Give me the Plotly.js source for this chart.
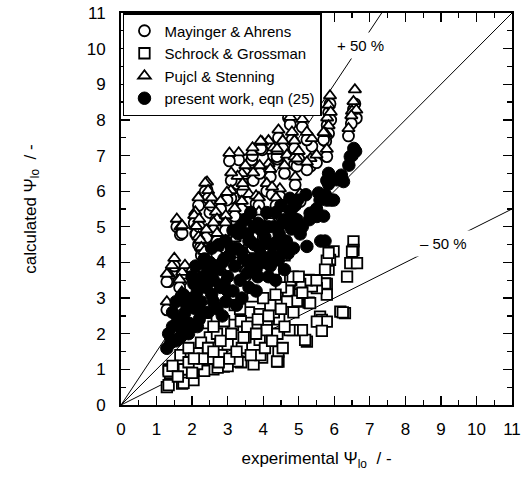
<!DOCTYPE html>
<html><head><meta charset="utf-8">
<script src="https://cdn.plot.ly/plotly-3.0.1.min.js"></script>
<style>html,body{margin:0;padding:0;background:#fff}#chart{width:522px;height:484px}</style>
</head><body><div id="chart"></div>
<script>
// Mayinger & Ahrens (open circles)
const mayX = [6.54,6.50,6.62,6.58,6.40,6.48,5.84,5.88,5.80,5.84,5.76,5.79,5.90,5.70,5.37,5.23,5.33,5.23,5.04,
  4.71,4.76,4.81,4.88,4.43,4.67,4.88,4.95,4.90,4.29,4.40,4.15,3.97,3.93,3.68,3.31,4.39,4.15,4.20,4.10,4.47,4.25,4.36,
  3.72,3.40,3.28,3.45,3.42,3.09,2.98,3.40,3.60,3.80,3.88,3.88,3.60,3.55,3.20,
  2.42,2.37,2.45,2.18,2.50,2.67,2.70,2.95,2.94,2.70,2.94,3.20,2.70,
  1.57,1.67,1.72,2.09,2.06,2.10,2.12,2.18,2.23,2.26,2.34,
  1.34,1.43,1.29,1.72,1.80,2.00,1.29,1.71,2.30,3.00,3.30,3.70,4.00,4.20,4.50,2.50,2.80,3.50,
  2.20,2.55,2.80,3.10,3.50,3.90,4.60,5.00,4.55,5.50,2.40,2.60,3.35,1.50,1.65,3.05,3.70,5.10];
const mayY = [8.30,8.05,8.05,8.45,7.55,7.90,8.20,8.45,7.85,7.62,7.40,6.97,8.00,7.44,7.26,7.44,6.70,6.60,5.71,
  8.06,7.87,7.44,7.20,7.50,6.80,6.75,6.70,6.18,7.00,6.90,7.20,7.16,7.20,6.88,6.88,6.97,6.55,6.40,6.00,5.85,5.90,5.60,
  6.30,6.28,6.20,5.90,6.00,5.80,5.75,5.50,5.70,5.65,5.60,5.20,5.15,4.80,5.30,
  6.04,5.99,5.80,5.60,5.40,5.20,5.00,5.10,4.90,4.60,4.40,4.45,4.20,
  5.00,4.78,4.82,5.20,5.10,4.80,4.80,4.50,4.41,4.20,4.10,
  3.46,3.70,3.46,3.51,3.70,3.60,2.67,2.95,3.80,3.90,4.00,4.40,4.70,5.10,5.30,3.30,3.60,3.60,
  5.00,5.60,5.50,6.30,6.50,6.50,6.50,6.90,7.20,6.80,4.70,4.90,4.60,3.90,3.30,6.85,7.00,7.80];
// Schrock & Grossman (open squares)
const schX = [6.54,6.54,6.50,6.45,6.64,6.36,5.98,5.88,5.84,5.79,5.74,5.79,5.79,5.74,5.51,5.37,5.28,5.23,5.04,
  4.79,4.76,4.74,4.70,5.28,4.97,4.95,5.32,5.60,5.65,5.79,5.51,5.65,6.17,6.30,6.24,5.23,5.18,5.09,4.83,4.74,
  4.43,4.43,4.39,4.10,3.97,3.73,3.92,3.38,3.28,2.89,3.00,2.60,2.72,2.19,2.34,2.04,1.72,1.76,1.29,1.34,
  1.34,1.38,1.34,1.67,1.71,1.77,2.14,2.50,2.83,3.00,3.40,3.50,3.90,4.10,4.40,4.45,4.30,4.67,4.20,3.70,
  3.60,3.15,2.90,2.50,2.25,2.15,3.37,3.90,5.10,4.50,4.00,2.70,2.40,1.90,3.20,4.60,4.30,4.83,5.84,
  1.45,1.60,1.90,2.00,2.30,2.45,2.60,2.75,2.80,3.05,3.10,3.25,3.45,3.55,3.65,3.80,3.85,4.05,4.15,4.25,
  4.35,4.50,4.55,4.60,4.85,5.00,5.50,2.05,2.60,3.35];
const schY = [4.59,4.35,4.30,3.98,3.98,3.60,4.31,4.07,3.80,4.05,3.80,3.40,3.10,3.41,3.28,3.33,3.51,3.50,3.40,
  3.51,3.50,3.10,3.20,2.87,2.90,2.92,2.86,2.48,2.39,2.34,2.34,2.08,2.62,2.58,2.60,1.78,1.83,2.10,2.10,2.10,
  1.22,1.50,1.22,2.20,1.33,1.14,1.40,1.20,1.22,1.08,1.09,1.00,1.05,1.00,0.96,0.70,0.60,0.62,0.50,0.56,
  1.00,0.90,0.95,1.40,1.00,1.00,1.15,1.30,1.40,1.70,1.60,1.90,1.83,2.10,2.00,2.40,2.60,2.90,2.80,3.05,
  2.60,2.25,2.35,1.90,1.75,1.45,2.35,2.55,3.15,3.30,3.00,2.00,2.30,1.60,2.80,4.20,3.80,3.60,4.27,
  1.10,0.80,1.20,0.90,1.30,1.60,1.50,1.20,1.80,1.30,2.00,1.50,1.90,2.20,1.40,2.00,2.40,1.60,2.50,1.80,
  3.10,2.70,1.60,2.20,2.60,3.60,3.50,1.30,2.20,2.70];
// Pujol & Stenning (open triangles)
const pujX = [6.54,6.50,6.62,6.58,6.40,6.48,5.84,5.88,5.80,5.84,5.76,5.79,5.90,5.70,5.37,5.23,5.33,5.23,5.04,
  4.71,4.76,4.81,4.88,4.43,4.67,4.88,4.95,4.90,4.29,4.40,4.15,3.97,3.93,3.68,3.31,4.39,4.15,4.20,4.10,4.47,4.25,4.36,
  3.72,3.40,3.28,3.45,3.42,3.09,2.98,3.40,3.60,3.80,3.88,3.88,3.60,3.55,3.20,
  2.42,2.37,2.45,2.18,2.50,2.67,2.70,2.95,2.94,2.70,2.94,3.20,2.70,
  1.57,1.67,1.72,2.09,2.06,2.10,2.12,2.18,2.23,2.26,2.34,
  1.34,1.43,1.29,1.72,1.80,2.00,1.29,1.71,2.30,3.00,3.30,3.70,4.00,4.20,4.50,2.50,2.80,3.50,
  2.20,2.55,2.80,3.10,3.50,3.90,4.60,5.00,4.55,5.50,2.40,2.60,3.35,1.50,1.65,3.05,3.70,5.10];
const pujY = [8.52,8.25,8.28,8.85,7.76,8.12,8.42,8.68,8.06,7.84,7.62,7.18,8.22,7.65,7.48,7.66,6.92,6.82,5.93,
  8.28,8.08,7.66,7.42,7.72,7.02,6.97,6.91,6.40,7.22,7.12,7.42,7.38,7.41,7.10,7.08,7.19,6.77,6.62,6.22,6.07,6.12,5.82,
  6.52,6.50,6.42,6.12,6.22,6.02,5.97,5.72,5.92,5.87,5.82,5.42,5.37,5.02,5.52,
  6.26,6.23,6.02,5.82,5.62,5.42,5.22,5.32,5.12,4.82,4.62,4.67,4.42,
  5.22,5.00,5.04,5.42,5.32,5.02,5.02,4.72,4.63,4.42,4.32,
  3.68,3.92,3.68,3.73,3.92,3.82,2.90,3.17,4.02,4.12,4.22,4.62,4.92,5.32,5.52,3.52,3.82,3.82,
  5.22,5.82,5.72,6.52,6.72,6.72,6.72,7.12,7.42,7.02,4.92,5.12,4.82,4.12,3.52,7.07,7.22,8.02];
// present work, eqn (25) (filled circles)
const preX = [6.60,6.55,6.50,6.45,6.41,6.26,6.20,6.07,5.98,5.90,5.84,5.84,5.79,5.75,5.79,5.70,5.60,5.56,5.51,5.50,
  5.74,5.62,5.30,5.32,5.23,5.04,4.97,4.90,4.80,4.79,4.70,4.60,4.50,4.43,4.40,4.30,4.20,4.10,4.00,3.95,
  3.90,3.85,3.75,3.70,3.60,3.55,3.50,3.40,3.35,3.30,3.20,3.15,3.10,3.00,2.95,2.90,2.80,2.75,2.70,2.60,
  2.55,2.50,2.45,2.40,2.30,2.25,2.20,2.15,2.10,2.00,1.97,1.90,1.80,1.72,1.67,1.60,1.45,1.34,1.29,1.40,
  2.05,3.65,4.15,4.55,4.85,3.25,2.85,3.80,4.35,
  1.45,1.55,1.75,1.85,2.00,2.10,2.20,2.35,2.45,2.55,2.65,2.75,2.85,2.95,3.05,3.15,3.25,3.35,3.45,3.55,
  3.65,3.75,3.85,3.95,4.05,4.15,4.25,4.35,4.45,4.55,4.65,4.75,4.85,4.95,5.10,5.20,2.30,2.60,3.00,3.40,
  3.80,4.20,4.60,2.15,1.55,1.90,2.40,2.90,3.60,4.30];
const preY = [7.12,7.20,7.00,6.97,6.73,6.27,6.45,6.32,5.75,5.75,6.50,6.20,6.30,5.90,5.75,5.30,5.75,5.95,5.29,5.50,
  4.60,4.60,5.20,5.38,4.45,4.80,5.75,5.60,4.94,5.48,4.25,5.20,5.60,4.07,4.60,5.00,4.50,5.40,4.00,4.90,
  4.40,3.60,5.00,4.10,4.60,3.70,5.20,4.30,3.50,4.80,3.90,3.20,4.40,3.60,2.90,4.10,3.30,3.80,2.70,3.50,
  3.10,4.00,2.60,3.30,3.60,2.90,2.40,3.20,2.70,3.00,2.89,2.30,2.60,2.10,1.90,2.40,2.20,2.00,1.59,1.75,
  3.40,5.40,3.60,4.30,5.20,2.80,2.50,3.20,3.50,
  2.60,2.90,3.10,2.80,3.60,3.90,3.50,4.10,3.70,4.40,3.90,4.50,4.00,4.60,4.20,4.90,4.40,5.00,4.10,4.80,
  3.90,4.50,5.10,4.20,4.70,5.00,4.20,5.40,4.80,5.10,4.60,5.80,4.40,5.20,5.00,5.90,2.60,2.90,3.20,3.00,
  3.80,3.90,3.80,2.20,1.80,2.00,3.90,3.40,3.30,4.50];
// reference lines (ratio calculated / experimental) and their labels
const refRatios = [1, 1.5, 0.5];
const refLabels = ['+ 50 %', '\u2013 50 %'];
const refLabelX = [6.73, 9.07];
const refLabelRatio = [1.5, 0.5];
const axisMax = 11;

const shapes = refRatios.map(r => ({
  type: 'line', xref: 'x', yref: 'y', layer: 'below',
  x0: 0, y0: 0,
  x1: r > 1 ? axisMax / r : axisMax, y1: r > 1 ? axisMax : axisMax * r,
  line: {color: 'black', width: 1}
}));
const annotations = refLabels.map((t, i) => ({
  x: refLabelX[i], y: refLabelX[i] * refLabelRatio[i], xref: 'x', yref: 'y',
  text: t, showarrow: false, bgcolor: 'white', borderpad: 4,
  font: {family: 'Liberation Sans, Arial, sans-serif', size: 15, color: 'black'}
}));

const ln = {color: 'black', width: 1.8};
const traces = [
  {x: mayX, y: mayY, mode: 'markers', name: 'Mayinger &amp; Ahrens', type: 'scatter',
   marker: {symbol: 'circle', size: 11, color: 'white', line: ln}},
  {x: schX, y: schY, mode: 'markers', name: 'Schrock &amp; Grossman', type: 'scatter',
   marker: {symbol: 'square', size: 10.5, color: 'white', line: ln}},
  {x: pujX, y: pujY, mode: 'markers', name: 'Pujcl &amp; Stenning', type: 'scatter',
   marker: {symbol: 'triangle-up', size: 11, color: 'white', line: ln}},
  {x: preX, y: preY, mode: 'markers', name: 'present work, eqn (25)', type: 'scatter',
   marker: {symbol: 'circle', size: 12.5, color: 'black', line: {color: 'black', width: 1}}}
];
const fontFam = 'Liberation Sans, Arial, Helvetica, sans-serif';
const axisCommon = {
  range: [0, 11], dtick: 1, tick0: 0, autorange: false,
  showgrid: false, zeroline: false, showline: true, linecolor: 'black', linewidth: 2,
  mirror: 'allticks', ticks: 'inside', ticklen: 9, tickwidth: 1.2, tickcolor: 'black',
  minor: {dtick: 0.5, ticks: 'inside', ticklen: 5, tickwidth: 1.2, tickcolor: 'black'},
  tickfont: {family: fontFam, size: 17, color: 'black'}
};
const layout = {
  width: 522, height: 484,
  margin: {l: 121, r: 10, t: 13, b: 79},
  paper_bgcolor: 'white', plot_bgcolor: 'white',
  font: {family: fontFam, color: 'black'},
  showlegend: true,
  legend: {x: 0.005, y: 1, xanchor: 'left', yanchor: 'top', bgcolor: 'white',
    bordercolor: 'black', borderwidth: 1.5, font: {family: fontFam, size: 15, color: 'black'},
    tracegroupgap: 0, itemwidth: 30},
  xaxis: Object.assign({}, axisCommon, {
    ticklabelstandoff: 8,
    title: {text: 'experimental \u03A8<sub>lo</sub>  / -', font: {family: fontFam, size: 17}, standoff: 14}
  }),
  yaxis: Object.assign({}, axisCommon, {
    ticklabelstandoff: 10,
    title: {text: 'calculated \u03A8<sub>lo</sub>  / -', font: {family: fontFam, size: 17}, standoff: 46}
  }),
  shapes: shapes,
  annotations: annotations
};
Plotly.newPlot('chart', traces, layout, {displayModeBar: false, staticPlot: true});
</script></body></html>
